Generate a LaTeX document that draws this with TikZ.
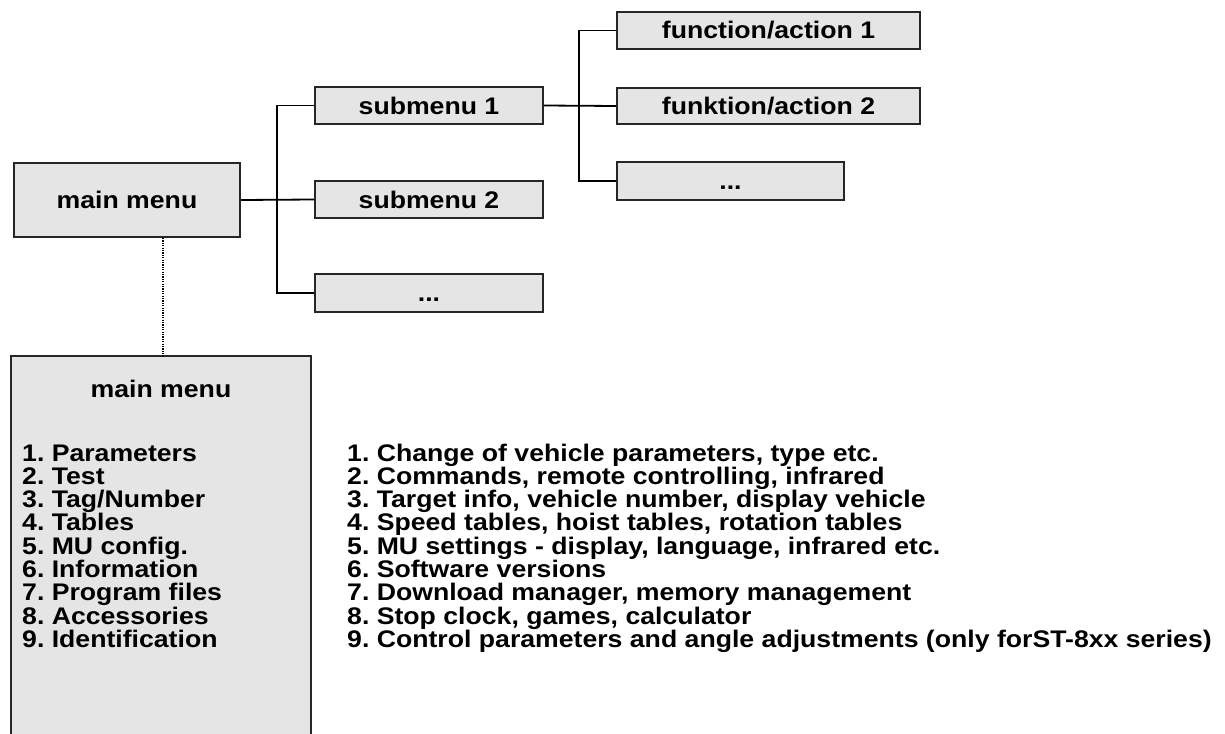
\documentclass[tikz,border=0pt]{standalone}
\usepackage{fontspec}
\setmainfont{Liberation Sans}[FakeStretch=1.11]
\frenchspacing
\begin{document}
\begin{tikzpicture}[x=1pt,y=-1pt,
  menubox/.style={draw=black!85,line width=2pt,fill=black!10,inner sep=0pt,text height=17pt,text depth=0pt,font=\bfseries\fontsize{24}{24}\selectfont},
  conn/.style={draw=black,line width=1.8pt},
  txt/.style={inner sep=0pt,font=\bfseries\fontsize{24}{24}\selectfont}]
\useasboundingbox (0,0) rectangle (1225,733);
\node[menubox,minimum width=226pt,minimum height=74pt] (main) at (127,200) {main menu};
\node[menubox,minimum width=228pt,minimum height=37pt] (sub1) at (429,105.5) {submenu 1};
\node[menubox,minimum width=228pt,minimum height=37pt] (sub2) at (429,199.5) {submenu 2};
\node[menubox,minimum width=228pt,minimum height=38pt] (dots1) at (429,293) {...};
\node[menubox,minimum width=303pt,minimum height=37pt] (f1) at (768.5,30.5) {function/action 1};
\node[menubox,minimum width=303pt,minimum height=36pt] (f2) at (768.5,106) {funktion/action 2};
\node[menubox,minimum width=227pt,minimum height=38pt] (dots2) at (730.5,181) {...};
\draw[conn] (main.east) -- (sub2.west);
\draw[conn] (sub1.west) -- ++(-37,0) |- (dots1.west);
\draw[conn] (sub1.east) -- (f2.west);
\draw[conn] (f1.west) -- ++(-37,0) |- (dots2.west);
% list box
\coordinate (listtop) at (163,356);
\fill[black!10] (11,356) rectangle (311,740);
\draw[draw=black!85,line width=2pt] (11,740) -- (11,356) -- (311,356) -- (311,740);
\draw[line width=1.2pt,dash pattern=on 1.2pt off 1.2pt] (listtop |- main.south) -- (listtop);
\node[txt] (lhead) at (161,389) {main menu};
\foreach \i/\a/\b in {1/{Parameters}/{Change of vehicle parameters, type etc.},
  2/{Test}/{Commands, remote controlling, infrared},
  3/{Tag/Number}/{Target info, vehicle number, display vehicle},
  4/{Tables}/{Speed tables, hoist tables, rotation tables},
  5/{MU config.}/{MU settings - display, language, infrared etc.},
  6/{Information}/{Software versions},
  7/{Program files}/{Download manager, memory management},
  8/{Accessories}/{Stop clock, games, calculator},
  9/{Identification}/{Control parameters and angle adjustments (only forST-8xx series)}}{
  \node[txt,anchor=base west] (l\i) at (22,{461+(\i-1)*23.3}) {\i. \a};
  \node[txt,anchor=base west] (r\i) at (347,{461+(\i-1)*23.3}) {\i. \b};
}
\end{tikzpicture}
\end{document}
